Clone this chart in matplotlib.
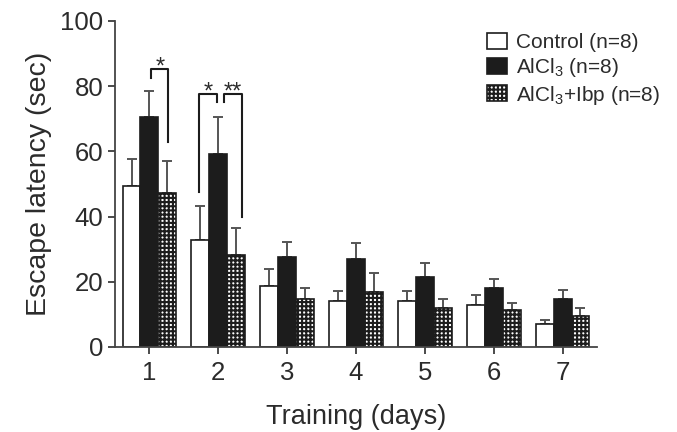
import matplotlib
matplotlib.use("Agg")
import matplotlib.pyplot as plt
from matplotlib.patches import Patch
import numpy as np

plt.rcParams['font.family'] = ['Liberation Sans', 'DejaVu Sans']
plt.rcParams['mathtext.default'] = 'regular'
plt.rcParams['hatch.linewidth'] = 1.5

days = [1, 2, 3, 4, 5, 6, 7]
control = [49.3, 32.9, 18.6, 14.2, 14.2, 12.8, 7.0]
control_sem = [8.5, 10.3, 5.4, 3.1, 2.9, 3.0, 1.3]
alcl3 = [70.6, 59.1, 27.6, 27.0, 21.6, 18.0, 14.8]
alcl3_sem = [7.8, 11.6, 4.5, 4.9, 4.1, 2.9, 2.7]
ibp = [47.3, 28.3, 14.7, 16.8, 12.1, 11.4, 9.5]
ibp_sem = [9.9, 8.2, 3.3, 5.9, 2.6, 2.0, 2.6]
labels = ['Control (n=8)', 'AlCl$_3$ (n=8)', 'AlCl$_3$+Ibp (n=8)']

txt = '#2b2b2b'
fig = plt.figure(figsize=(6.77, 4.32), dpi=100)
ax = fig.add_axes([115/677, 1 - 347/432, (597 - 115)/677, (347 - 21)/432])

x = np.array(days)
w = 0.26
err_kw = dict(ecolor='#555555', elinewidth=1.4, capsize=3.5, capthick=1.4)
series = [(control, control_sem, 'white', None),
          (alcl3, alcl3_sem, '#1c1c1c', None),
          (ibp, ibp_sem, 'white', '++++')]
for i, (vals, sem, fc, hatch) in enumerate(series):
    ax.bar(x + (i - 1) * w, vals, w, color=fc, edgecolor='#1c1c1c', linewidth=1.2,
           hatch=hatch, zorder=2)
    ax.errorbar(x + (i - 1) * w, vals, yerr=[np.zeros(len(sem)), sem], fmt='none',
                zorder=1, **err_kw)

# significance brackets
def bracket(x0, x1, top, y0, y1, label, sx):
    ax.plot([x0, x0, x1, x1], [y0, top, top, y1], color='#1c1c1c', lw=1.5, zorder=3)
    ax.text(sx, top - 3.0, label, ha='center', va='bottom', fontsize=17, color=txt)

bracket(1.02, 1.275, 85.2, 82.5, 62.8, '*', 1.15)
bracket(1.725, 1.985, 77.7, 47.5, 75.0, '*', 1.855)
bracket(2.085, 2.34, 77.7, 75.0, 40.0, '**', 2.21)

ax.set_xlim(0.5, 7.5)
ax.set_ylim(0, 100)
ax.set_xticks(days)
ax.set_yticks([0, 20, 40, 60, 80, 100])
ax.tick_params(axis='both', labelsize=18.5, colors=txt, length=5, width=1.2)
ax.tick_params(axis='x', pad=5)
for s in ['top', 'right']:
    ax.spines[s].set_visible(False)
for s in ['left', 'bottom']:
    ax.spines[s].set_color('#444444')
    ax.spines[s].set_linewidth(1.3)
ax.set_xlabel('Training (days)', fontsize=19.5, color=txt, labelpad=14)
ax.set_ylabel('Escape latency (sec)', fontsize=20.5, color=txt, labelpad=6)

handles = [Patch(facecolor='white', edgecolor='#1c1c1c', linewidth=1.2),
           Patch(facecolor='#1c1c1c', edgecolor='#1c1c1c', linewidth=1.2),
           Patch(facecolor='white', edgecolor='#1c1c1c', linewidth=1.2, hatch='++++')]
fig.legend(handles, labels, loc='upper left', bbox_to_anchor=(487/677, 1 - 33/432),
           frameon=False, fontsize=15, handlelength=0.95, handleheight=0.8,
           handletextpad=0.45, labelspacing=0.2, borderpad=0, borderaxespad=0,
           labelcolor=txt)

fig.savefig('out.png', dpi=100)
